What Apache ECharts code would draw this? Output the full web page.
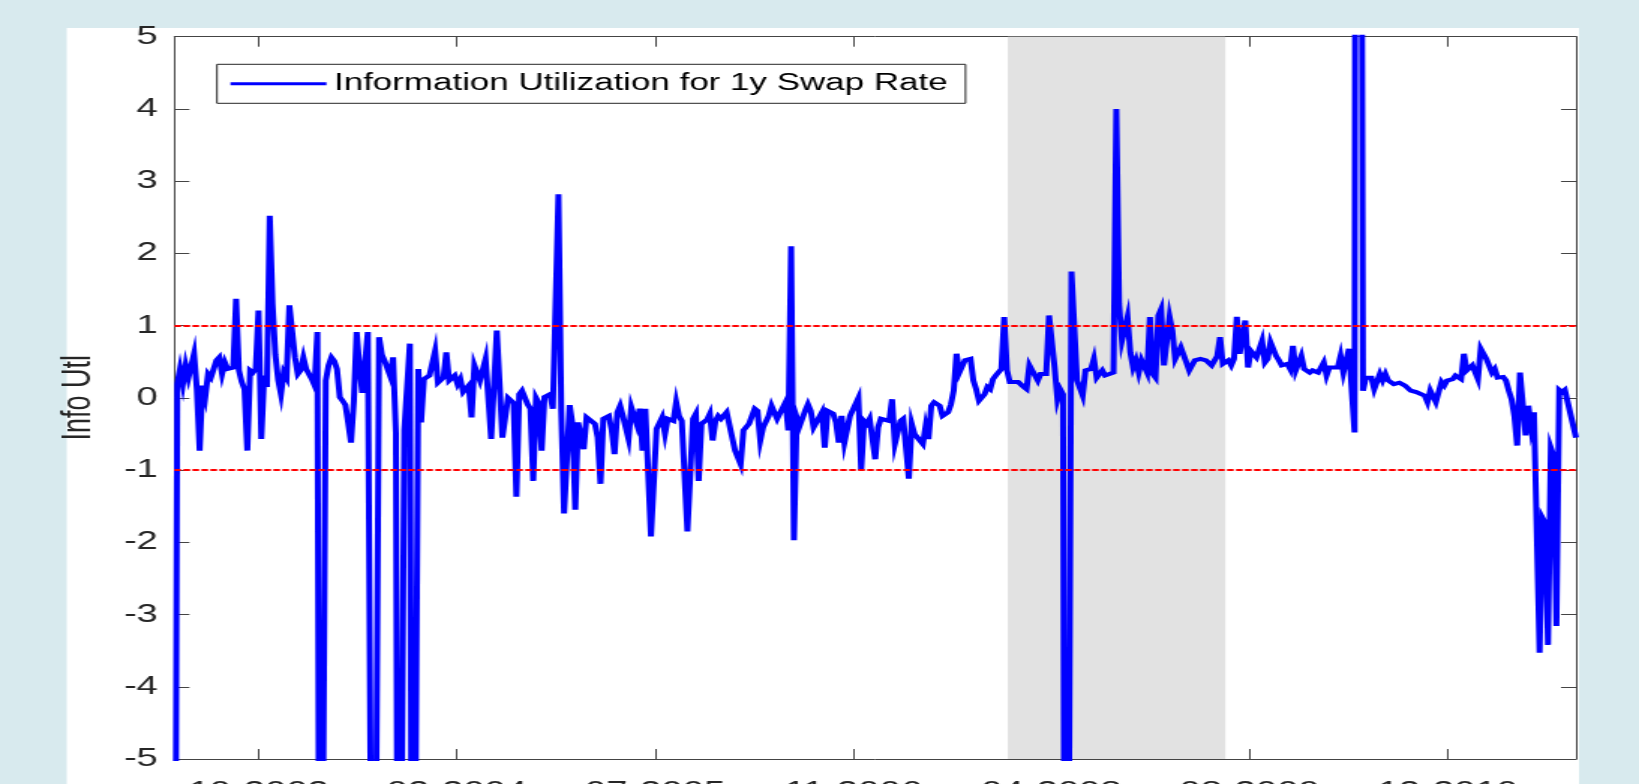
<!DOCTYPE html>
<html>
<head>
<meta charset="utf-8">
<script src="https://cdn.jsdelivr.net/npm/echarts@6/dist/echarts.min.js"></script>
<style>
html,body{margin:0;padding:0;width:1639px;height:784px;overflow:hidden;background:#d8eaee;}
#chart{position:absolute;left:0;top:0;width:1093px;height:784px;transform-origin:0 0;transform:scaleX(1.49954);}
</style>
</head>
<body>
<div id="chart"></div>
<script>
// week index (weekly observations, 0 = first observation)
const weeks = [0,1,2,3,4,5,6,7,8,9,10,11,12,13,14,15,16,17,18,19,21,22,23,24,25,26,27,28,29,30,31,32,33,34,35,36,37,38,39,40,41,43,44,45,46,47,48,49,50,51,52,53,54,55,56,57,58,59,60,61,62,63,64,65,66,67,68,69,71,73,74,75,76,77,78,79,80,81,82,84,85,86,87,88,89,91,93,94,96,97,98,100,101,102,103,105,106,107,109,111,113,114,115,116,117,118,119,121,122,123,124,126,127,128,129,130,131,132,134,135,137,138,139,141,142,143,144,146,147,148,150,151,152,153,155,156,157,158,159,160,162,163,165,166,167,168,169,170,172,173,174,175,176,178,179,180,181,182,183,185,186,187,188,189,190,191,192,193,194,195,197,198,200,201,202,203,204,205,207,208,209,210,212,213,214,215,216,218,219,220,221,222,223,225,226,227,228,229,231,232,233,235,236,237,238,239,241,242,244,245,246,247,248,250,251,252,255,256,257,259,260,261,262,263,264,265,267,268,269,270,271,273,274,276,277,278,279,280,281,282,284,285,286,287,289,290,291,292,293,295,296,297,298,299,301,303,304,305,306,308,309,311,312,313,314,315,316,317,318,319,320,322,324,325,327,328,329,331,332,335,336,337,338,340,341,342,343,344,345,347,348,349,350,351,352,353,355,356,357,358,359,361,362,364,366,368,370,372,373,374,376,377,378,379,380,381,382,383,384,386,387,388,389,390,391,393,394,395,397,398,399,400,402,403,405,406,408,410,411,412,415,416,417,419,421,422,423,424,425,427,428,430,431,432,433,435,437,439,441,443,444,446,447,448,450,452,453,454,456,457,459,460,461,462,463,465,466,468,469,470,471,472,474,475,476,477,478,479,480,482,483,484,485,487,488,489,490,491,492,493,494,495,496,497,500];
const values = [-12,0.19,0.40,0.19,0.45,0.28,0.26,0.61,0.12,-0.73,0.17,0.01,0.33,0.28,0.40,0.52,0.56,0.33,0.49,0.40,0.42,1.37,0.38,0.22,0.12,-0.73,0.38,0.35,0.40,1.21,-0.57,0.31,0.15,2.52,1.3,0.6,0.25,0.05,0.35,0.28,1.28,0.56,0.33,0.38,0.56,0.40,0.42,0.26,0.17,0.91,-12,-12,0.24,0.45,0.56,0.51,0.40,0.01,-0.04,-0.10,-0.35,-0.62,-0.05,0.91,0.45,0.07,0.05,0.91,-12,0.84,0.60,0.51,0.49,0.30,0.56,-0.48,-12,-12,-0.45,0.75,-12,-12,0.40,-0.34,0.26,0.31,0.65,0.21,0.28,0.63,0.24,0.31,0.19,0.26,0.08,0.17,-0.27,0.45,0.24,0.54,-0.57,-0.55,0.93,0.91,-0.55,-0.53,0.0,-0.07,-1.37,0.05,0.10,-0.09,-0.15,-1.15,0.0,-0.07,-0.73,0.01,0.05,-0.15,2.82,-0.18,-1.60,-0.10,-0.37,-1.55,-0.34,-0.71,-0.27,-0.25,-0.36,-0.55,-1.19,-0.29,-0.25,-0.45,-0.78,-0.20,-0.11,-0.25,-0.57,-0.13,-0.37,-0.15,-0.73,-0.15,-0.15,-1.92,-0.43,-0.41,-0.27,-0.50,-0.29,-0.32,-0.06,-0.25,-0.32,-0.34,-1.85,-0.29,-0.22,-1.15,-0.36,-0.36,-0.30,-0.22,-0.59,-0.32,-0.25,-0.29,-0.20,-0.22,-0.73,-0.71,-0.92,-0.45,-0.43,-0.36,-0.15,-0.18,-0.59,-0.41,-0.25,-0.11,-0.13,-0.29,-0.27,-0.06,-0.45,2.10,-1.97,-0.27,-0.39,-0.18,-0.09,-0.18,-0.41,-0.39,-0.20,-0.69,-0.18,-0.22,-0.34,-0.62,-0.25,-0.62,-0.25,-0.25,0.0,-1.0,-0.32,-0.36,-0.29,-0.85,-0.41,-0.29,-0.32,-0.02,-0.64,-0.32,-0.29,-0.27,-1.12,-0.36,-0.50,-0.50,-0.64,-0.39,-0.57,-0.11,-0.06,-0.11,-0.25,-0.20,-0.09,0.10,0.61,0.35,0.36,0.52,0.54,0.24,0.12,-0.04,0.05,0.15,0.12,0.26,0.31,0.40,1.12,0.38,0.22,0.24,0.22,0.15,0.12,0.45,0.38,0.24,0.33,0.33,1.14,1.12,0.42,-0.02,0.12,0.05,-15,-15,1.75,0.24,0.03,0.38,0.40,0.54,0.28,0.38,0.31,0.35,4.0,1.3,0.79,1.12,0.63,0.42,0.52,0.35,0.52,0.35,1.12,0.33,0.28,1.14,1.23,0.45,1.12,0.93,0.54,0.52,0.70,0.49,0.38,0.52,0.54,0.52,0.45,0.58,0.84,0.47,0.52,0.45,0.54,1.12,0.61,0.61,1.07,0.42,0.65,0.56,0.54,0.79,0.49,0.54,0.77,0.58,0.52,0.45,0.47,0.40,0.72,0.38,0.58,0.40,0.35,0.38,0.35,0.49,0.31,0.42,0.42,0.58,0.35,0.68,-0.48,30,30,0.10,0.28,0.28,0.12,0.33,0.24,0.33,0.24,0.19,0.21,0.17,0.10,0.08,0.08,0.03,-0.06,0.10,-0.06,0.22,0.17,0.24,0.26,0.31,0.26,0.61,0.38,0.36,0.45,0.26,0.68,0.54,0.52,0.35,0.40,0.28,0.29,0.24,0.10,-0.02,-0.25,-0.66,0.35,-0.52,-0.11,-0.41,-0.20,-3.53,-1.66,-1.73,-3.42,-0.69,-0.80,-3.16,0.11,0.08,0.11,0.10,-0.55];
const tickWeeks = [30.05, 100.75, 171.45, 242.15, 312.85, 383.55, 454.25];
const tickLabels = ['10-2002', '02-2004', '07-2005', '11-2006', '04-2008', '08-2009', '12-2010'];
const shadeWeeks = [297.3, 374.9];
const thresholds = [1, -1];
const seriesName = 'Information Utilization for 1y Swap Rate';
const yName = 'Info Utl';

const FONT = '"Liberation Sans", Arial, Helvetica, sans-serif';
const chart = echarts.init(document.getElementById('chart'), null, {renderer: 'canvas'});
const axisCol = '#444444';
const txtCol = '#262626';

const option = {
  animation: false,
  graphic: [{
    type: 'rect', z: -10, silent: true,
    shape: {x: 44.5, y: 28, width: 1008.5, height: 800},
    style: {fill: '#ffffff'}
  }],
  grid: {left: 116.3, right: 42, top: 36.7, bottom: 25, show: false, containLabel: false, outerBoundsMode: 'none'},
  legend: {
    data: [seriesName], left: 144.7, top: 64.3, icon: 'rect',
    backgroundColor: '#ffffff', borderColor: '#262626', borderWidth: 1, borderRadius: 0,
    padding: [7, 12, 7, 9], itemWidth: 64, itemHeight: 3, selectedMode: false,
    textStyle: {fontSize: 23.3, color: '#000', fontFamily: FONT, lineHeight: 25}
  },
  xAxis: [{
    type: 'value', position: 'bottom', min: 0, max: 500,
    axisLine: {show: true, onZero: false, lineStyle: {color: axisCol, width: 1}},
    axisTick: {show: true, inside: true, length: 10, customValues: tickWeeks, lineStyle: {color: axisCol}},
    axisLabel: {show: true, customValues: tickWeeks, margin: 20, fontSize: 25.5, color: txtCol, fontFamily: FONT,
      formatter: function (v) { const k = tickWeeks.findIndex(t => Math.abs(t - v) < 1e-6); return k >= 0 ? tickLabels[k] : ''; }},
    splitLine: {show: false}
  }, {
    type: 'value', position: 'top', min: 0, max: 500,
    axisLine: {show: true, onZero: false, lineStyle: {color: axisCol, width: 1}},
    axisTick: {show: true, inside: true, length: 10, customValues: tickWeeks, lineStyle: {color: axisCol}},
    axisLabel: {show: false}, splitLine: {show: false}
  }],
  yAxis: [{
    type: 'value', position: 'left', min: -5, max: 5, interval: 1,
    name: yName, nameLocation: 'middle', nameRotate: 90, nameGap: 50,
    nameTextStyle: {fontSize: 27, color: txtCol, fontFamily: FONT},
    axisLine: {show: true, onZero: false, lineStyle: {color: axisCol, width: 1}},
    axisTick: {show: true, inside: true, length: 10, lineStyle: {color: axisCol}},
    axisLabel: {show: true, margin: 11, fontSize: 25.5, color: txtCol, fontFamily: FONT},
    splitLine: {show: false}
  }, {
    type: 'value', position: 'right', min: -5, max: 5, interval: 1,
    axisLine: {show: true, onZero: false, lineStyle: {color: axisCol, width: 1}},
    axisTick: {show: true, inside: true, length: 10, lineStyle: {color: axisCol}},
    axisLabel: {show: false}, splitLine: {show: false}
  }],
  series: [{
    type: 'line', name: '__shade', data: [], z: 1, silent: true,
    markArea: {silent: true, itemStyle: {color: '#e2e2e2'},
      data: [[{xAxis: shadeWeeks[0]}, {xAxis: shadeWeeks[1]}]]}
  }, {
    type: 'line', name: seriesName, z: 3,
    data: weeks.map((w, i) => [w, values[i]]),
    symbol: 'none', clip: true,
    lineStyle: {color: '#0000ff', width: 4, join: 'miter'},
    itemStyle: {color: '#0000ff'}
  }, {
    type: 'line', name: '__thr', data: [], z: 5, silent: true,
    markLine: {silent: true, symbol: ['none', 'none'], label: {show: false},
      lineStyle: {color: '#ff0000', width: 2, type: [4.4, 1.6]},
      data: thresholds.map(t => ({yAxis: t}))}
  }]
};
chart.setOption(option);
</script>
</body>
</html>
